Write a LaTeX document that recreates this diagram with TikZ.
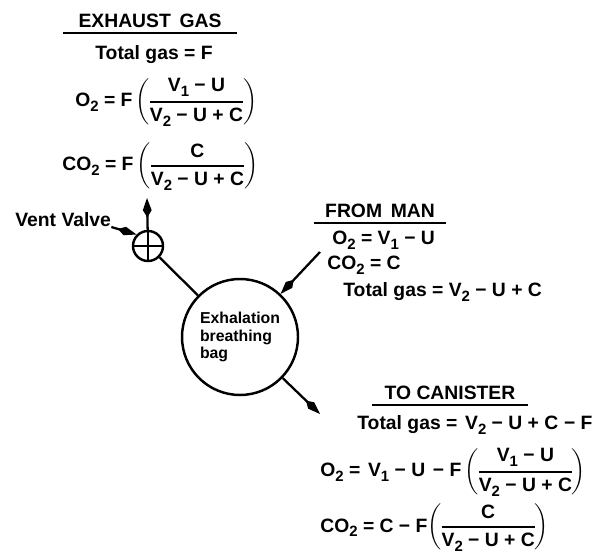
\documentclass[tikz,border=0pt]{standalone}
\usepackage{amsmath}
\usepackage{fontspec}
\setmainfont{Liberation Sans}
\usetikzlibrary{arrows.meta}
\newcommand{\subs}[1]{\raisebox{-0.45ex}{\fontsize{8.5}{9}\selectfont #1}}
\newcommand{\ratio}[2]{$\genfrac{(}{)}{1pt}{0}{\text{#1}}{\text{#2}}$}

\begin{document}
\begin{tikzpicture}[x=0.02cm, y=-0.02cm,
    lbl/.style={font=\bfseries\fontsize{11}{13}\selectfont, inner sep=0pt, anchor=base west},
    title/.style={lbl, anchor=base},
    bagnode/.style={circle, draw, line width=1.4pt, minimum size=2.32cm, align=left,
                    font=\bfseries\fontsize{9}{10}\selectfont, inner sep=0pt},
    valvenode/.style={circle, draw, line width=1.4pt, minimum size=0.6cm, inner sep=0pt},
    pipe/.style={line width=1.3pt},
    arr/.style={pipe, -{Kite[length=11pt, width=5pt, inset=4pt]}},
    uline/.style={line width=1.4pt}
  ]
    \useasboundingbox (0,0) rectangle (598,553);

    % exhaust side
    \node[title] (exhtitle) at (150,28) {EXHAUST\hspace{0.45em}GAS};
    \draw[uline] ([xshift=-0.3cm, yshift=-0.1cm]exhtitle.base west) -- ([xshift=0.3cm, yshift=-0.1cm]exhtitle.base east);
    \node[lbl] (exhtotal) at (95,60) {Total gas = F};
    \node[lbl] (exho2) at (75,107) {O\subs{2} = F\,\ratio{V\subs{1} − U}{V\subs{2} − U + C}};
    \node[lbl] (exhco2) at (62,171) {CO\subs{2} = F\,\ratio{C}{V\subs{2} − U + C}};

    \node[valvenode] (valve) at (148,246) {};
    \draw[pipe] (valve.north) -- (valve.south) (valve.west) -- (valve.east);
    \coordinate (exhout) at (147,198);
    \draw[arr] (valve) -- (exhout);
    \node[lbl] (vent) at (15,227) {Vent Valve};
    \draw[arr] (vent.base east) -- (valve.north west);

    \node[bagnode] (bag) at (240,337) {Exhalation\\breathing\\bag};
    \draw[pipe] (valve) -- (bag);

    % from man
    \node[title] (mantitle) at (380,218) {FROM\hspace{0.45em}MAN};
    \draw[uline] ([xshift=-0.22cm, yshift=-0.1cm]mantitle.base west) -- ([xshift=0.22cm, yshift=-0.1cm]mantitle.base east);
    \node[lbl] (mano2) at (332,245) {O\subs{2} = V\subs{1} − U};
    \node[lbl] (manco2) at (327,270) {CO\subs{2} = C};
    \node[lbl] (mantotal) at (343,297) {Total gas = V\subs{2} − U + C};
    \coordinate (manin) at (320,252);
    \draw[arr] (manin) -- (bag);

    % to canister
    \coordinate (canout) at (320,414);
    \draw[arr] (bag) -- (canout);
    \node[title] (cantitle) at (450,400) {TO CANISTER};
    \draw[uline] ([xshift=-0.25cm, yshift=-0.1cm]cantitle.base west) -- ([xshift=0.25cm, yshift=-0.1cm]cantitle.base east);
    \node[lbl] (cantotal) at (357,430) {Total gas =\hspace{0.4em}V\subs{2} − U + C\hspace{0.3em}− F};
    \node[lbl] (cano2) at (320,477) {O\subs{2} =\hspace{0.4em}V\subs{1} − U\hspace{0.4em}− F\,\ratio{V\subs{1} − U}{V\subs{2} − U + C}};
    \node[lbl] (canco2) at (320,532) {CO\subs{2} = C − F\ratio{C}{V\subs{2} − U + C}};
\end{tikzpicture}
\end{document}
